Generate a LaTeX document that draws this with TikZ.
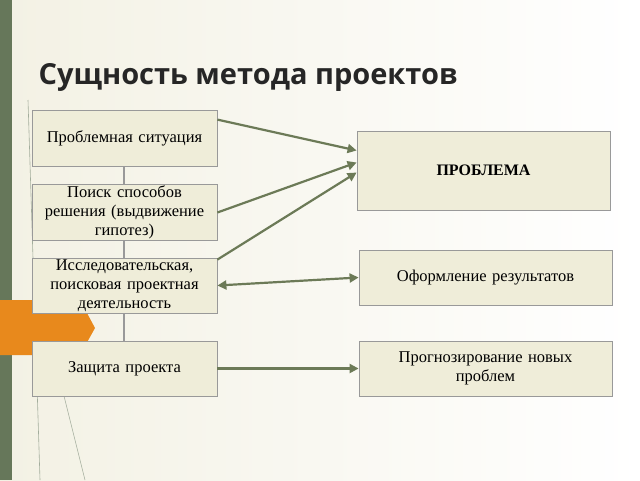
\documentclass[tikz,border=0pt]{standalone}
\usepackage{fontspec}
\setmainfont{Liberation Serif}
\newfontfamily\titlefont{Open Sans}
\usetikzlibrary{arrows.meta,calc}
\definecolor{bgc}{HTML}{F3F1E4}
\definecolor{boxc}{HTML}{EFEDD9}
\definecolor{arr}{HTML}{6C7A57}
\definecolor{strip}{HTML}{66775A}
\definecolor{orng}{HTML}{E8891C}
\tikzset{
  card/.style={draw=gray!80,fill=boxc,line width=0.8pt,align=center,font=\fontsize{16.5}{19}\selectfont,inner sep=1pt},
  link/.style={draw=arr,line width=2.2pt,-{Triangle[length=9pt,width=9pt]}},
}
\begin{document}
\begin{tikzpicture}[x=1pt,y=-1pt]
\useasboundingbox (0,0) rectangle (640,480);
\fill[left color=bgc, right color=white] (0,0) rectangle (640,480);
\fill[strip] (0,0) rectangle (12,480);
\draw[strip!60,line width=0.6pt] (28,100) -- (40,480);
\draw[strip!60,line width=0.6pt] (60,380) -- (85,480);
\fill[orng] (0,300) -- (80,300) -- (95,328) -- (80,355) -- (0,355) -- cycle;
\node[anchor=west,font=\titlefont\bfseries\fontsize{29}{31}\selectfont,text=black!85] (title) at (35,77) {Сущность метода проектов};
\draw[gray!80,line width=1.5pt] (124,166) -- (124,341);
\node[card,minimum width=185pt,minimum height=56pt,text width=183pt] (a) at (124.5,138) {Проблемная ситуация};
\node[card,minimum width=185pt,minimum height=55pt,text width=183pt] (b) at (124.5,212.5) {Поиск способов\\решения (выдвижение\\гипотез)};
\node[card,minimum width=185pt,minimum height=55pt,text width=183pt] (c) at (124.5,285.5) {Исследовательская,\\поисковая проектная\\деятельность};
\node[card,minimum width=185pt,minimum height=55pt,text width=183pt] (d) at (124.5,368.5) {Защита проекта};
\node[card,minimum width=253pt,minimum height=79pt,text width=245pt,font=\fontsize{16}{19}\selectfont\bfseries] (p) at (483.5,170.5) {ПРОБЛЕМА};
\node[card,minimum width=253pt,minimum height=55pt,text width=245pt] (o) at (485.5,277.5) {Оформление результатов};
\node[card,minimum width=253pt,minimum height=55pt,text width=245pt] (f) at (485.5,368.5) {Прогнозирование новых\\проблем};
\draw[link] ($(a.north east)+(0,10)$) -- ($(p.west)+(0,-20)$);
\draw[link] (b.east) -- ($(p.west)+(0,-8)$);
\draw[link] ($(c.north east)+(0,2)$) -- ($(p.west)+(0,2)$);
\draw[link,{Triangle[length=9pt,width=9pt]}-{Triangle[length=9pt,width=9pt]}] (c.east) -- (o.west);
\draw[link] (d.east) -- (f.west);
\end{tikzpicture}
\end{document}
